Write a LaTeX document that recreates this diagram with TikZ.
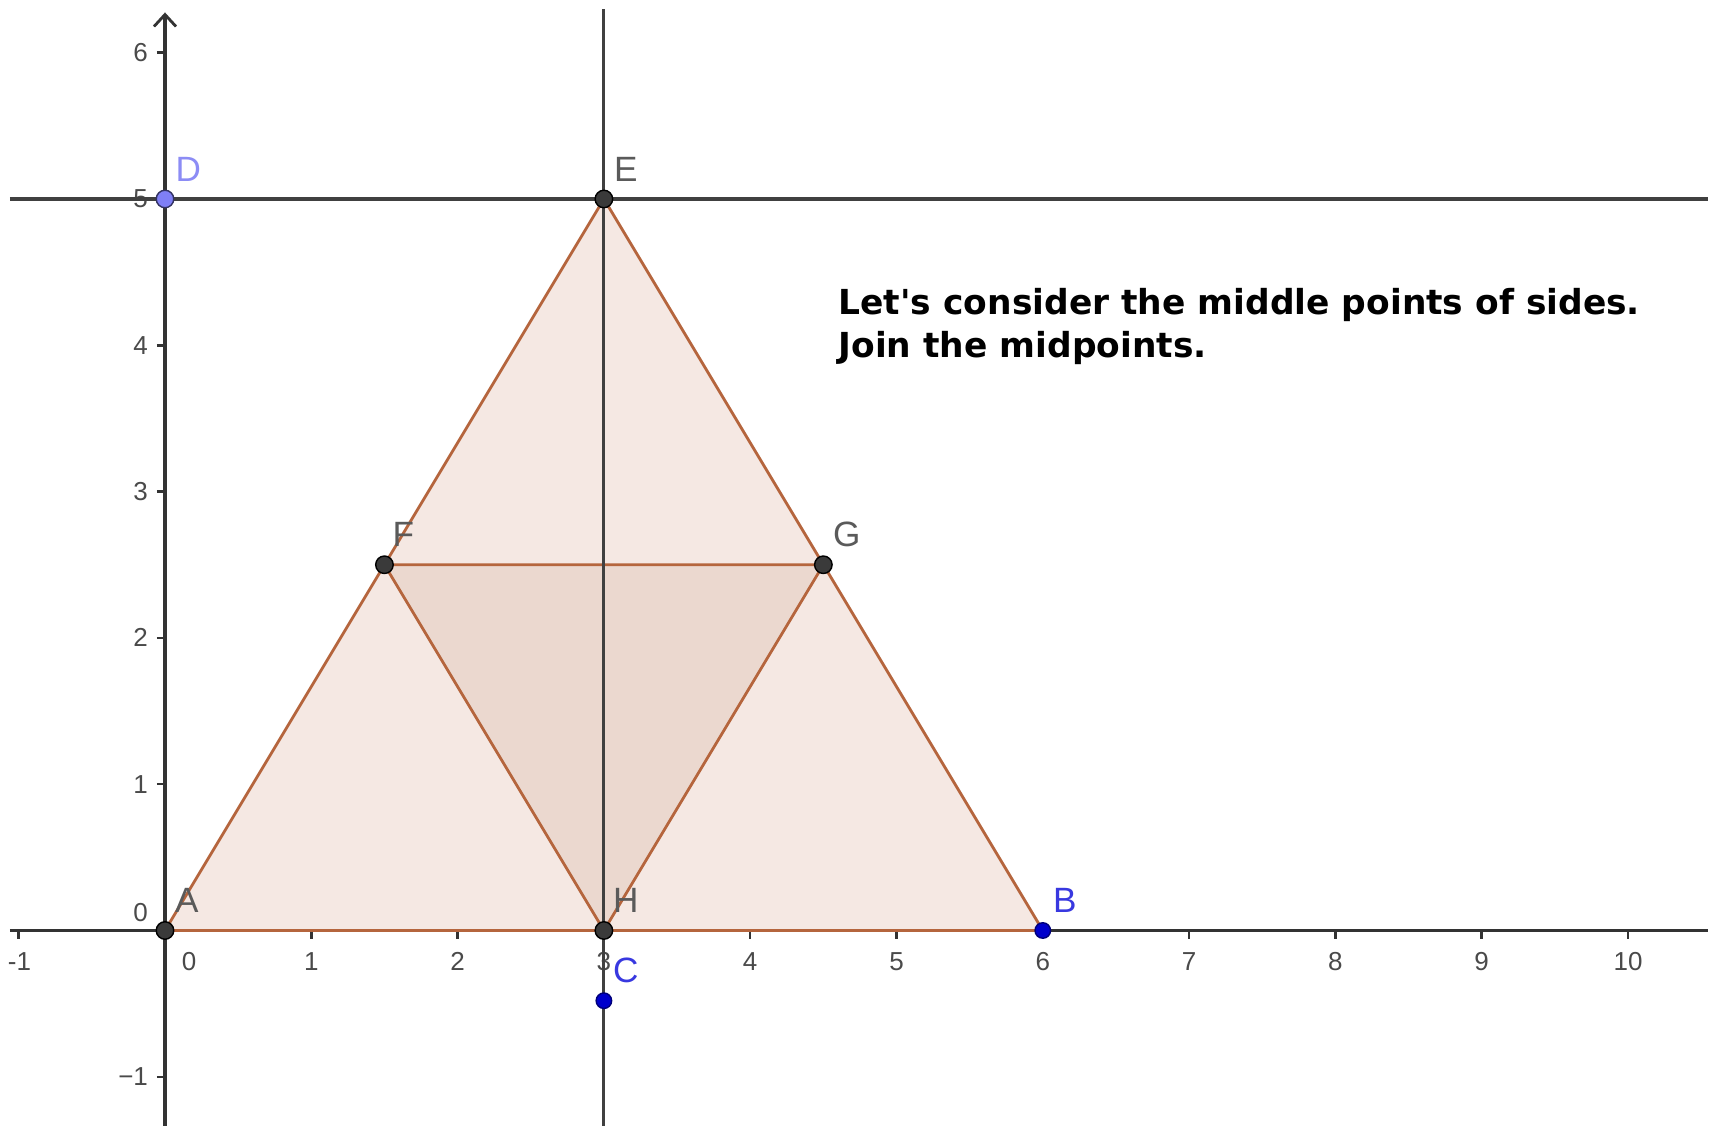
\documentclass[tikz,border=0pt]{standalone}
\usepackage{fontspec}
\setmainfont{Liberation Sans}
\newfontfamily\notefont{DejaVu Sans}
\usetikzlibrary{arrows.meta}
\definecolor{axisgray}{HTML}{333333}
\definecolor{linegray}{HTML}{404040}
\definecolor{edgebrown}{HTML}{B5653D}
\definecolor{fillout}{HTML}{F5E8E3}
\definecolor{fillin}{HTML}{EBD8CF}
\definecolor{labgray}{HTML}{5A5A5A}
\definecolor{ticklab}{HTML}{4A4A4A}
\definecolor{ptdark}{HTML}{3A3A3A}
\definecolor{ptblue}{HTML}{0000CC}
\definecolor{ptlight}{HTML}{7F7FF5}
\definecolor{labblue}{HTML}{3838E0}
\definecolor{lablight}{HTML}{8C8CF5}
\tikzset{
  axisline/.style={draw=axisgray,line width=0.9pt},
  auxline/.style={draw=linegray,line width=0.9pt},
  edge/.style={draw=edgebrown,line width=0.8pt,line join=round},
  tickmark/.style={draw=axisgray,line width=0.7pt},
  ticklabel/.style={font=\fontsize{7.4}{8}\selectfont,text=ticklab,inner sep=0pt},
  ptlabel/.style={font=\fontsize{10}{12}\selectfont,inner sep=0pt},
  dotdark/.style={circle,inner sep=0pt,minimum size=1.75mm,fill=ptdark,draw=black,line width=0.4pt},
  dotblue/.style={circle,inner sep=0pt,minimum size=1.55mm,fill=ptblue,draw=ptblue!60!black,line width=0.4pt},
  dotlight/.style={circle,inner sep=0pt,minimum size=1.75mm,fill=ptlight,draw=ptlight!40!black,line width=0.4pt},
  note/.style={font=\notefont\bfseries\fontsize{9.8}{11}\selectfont,text=black,inner sep=0pt,anchor=base west}
}
\begin{document}
\begin{tikzpicture}[x=14.63mm,y=14.63mm]
\fill[white] (-1.1278,-1.3363) rectangle (10.6494,6.3602);
\useasboundingbox (-1.1278,-1.3363) rectangle (10.6494,6.3602);

% points of the construction
\coordinate (A) at (0,0);
\coordinate (B) at (6,0);
\coordinate (C) at (3,-0.48);
\coordinate (D) at (0,5);
\coordinate (E) at (3,5);
\coordinate (F) at (1.5,2.5);
\coordinate (G) at (4.5,2.5);
\coordinate (H) at (3,0);

% axes
\coordinate (xl) at (-1.0595,0);
\coordinate (xr) at (10.547,0);
\coordinate (yb) at (0,-1.3363);
\coordinate (yt) at (0,6.275);
\draw[axisline] (xl) -- (xr);
\draw[axisline,-{Straight Barb[length=1.2mm,width=2.2mm,line width=0.8pt]}] (yb) -- (yt);

% ticks on x axis
\foreach \i in {-1,1,2,4,5,6,7,8,9,10} {
  \draw[tickmark] (\i,0.01) -- (\i,-0.055);
}
\foreach \i in {1,2,3,4,5,6,7,8,9,10} {
  \node[ticklabel] (tx\i) at (\i,-0.2126) {\i};
}
\node[ticklabel] (txm1) at (-0.995,-0.2126) {-1};
\node[ticklabel] (tx0) at (0.164,-0.2126) {0};
% ticks on y axis
\foreach \j in {1,2,3,4,5,6,-1} {
  \draw[tickmark] (-0.055,\j) -- (0.01,\j);
}
\foreach \j in {1,2,3,4,5,6} {
  \node[ticklabel,anchor=east] (ty\j) at (-0.112,\j) {\j};
}
\node[ticklabel,anchor=east] (tym1) at (-0.112,-1) {−1};
\node[ticklabel,anchor=east] (ty0) at (-0.112,0.126) {0};

% triangles
\fill[fillout] (A) -- (B) -- (E) -- cycle;
\fill[fillin] (F) -- (G) -- (H) -- cycle;
\draw[edge] (A) -- (B) -- (E) -- cycle;
\draw[edge] (F) -- (G) -- (H) -- cycle;

% lines x=3 and y=5
\coordinate (vt) at (3,6.299);
\coordinate (vb) at (3,-1.3363);
\coordinate (hl) at (-1.0595,5);
\coordinate (hr) at (10.547,5);
\draw[auxline] (vb) -- (vt);
\draw[auxline] (hl) -- (hr);

% point markers
\node[dotdark] (pA) at (A) {};
\node[dotblue] (pB) at (B) {};
\node[dotblue] (pC) at (C) {};
\node[dotlight] (pD) at (D) {};
\node[dotdark] (pE) at (E) {};
\node[dotdark] (pF) at (F) {};
\node[dotdark] (pG) at (G) {};
\node[dotdark] (pH) at (H) {};

% point labels
\node[ptlabel,text=labgray] (lA) at (0.15,0.205) {A};
\node[ptlabel,text=labblue] (lB) at (6.15,0.205) {B};
\node[ptlabel,text=labblue] (lC) at (3.15,-0.275) {C};
\node[ptlabel,text=lablight] (lD) at (0.16,5.205) {D};
\node[ptlabel,text=labgray] (lE) at (3.15,5.205) {E};
\node[ptlabel,text=labgray] (lF) at (1.63,2.705) {F};
\node[ptlabel,text=labgray] (lG) at (4.66,2.705) {G};
\node[ptlabel,text=labgray] (lH) at (3.15,0.205) {H};

% text
\node[note] (t1) at (4.600,4.212) {Let's consider the middle points of sides.};
\node[note] (t2) at (4.600,3.919) {Join the midpoints.};
\end{tikzpicture}
\end{document}
